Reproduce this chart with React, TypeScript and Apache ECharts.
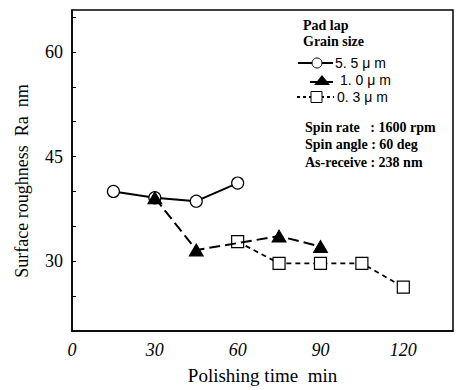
import React, { useEffect, useRef } from "react";
import * as echarts from "echarts";

const seriesNames = ["5. 5 \u03bc m", "1. 0 \u03bc m", "0. 3 \u03bc m"];
const data55: [number, number][] = [[15, 40.0], [30, 39.1], [45, 38.6], [60, 41.2]];
const data10: [number, number][] = [[30, 39.1], [45, 31.6], [75, 33.6], [90, 32.1]];
const data03: [number, number][] = [[60, 32.8], [75, 29.7], [90, 29.7], [105, 29.7], [120, 26.3]];
const yLabels = [30, 45, 60];
const notes = ["Pad lap", "Grain size"];
const conditions = ["Spin rate   : 1600 rpm", "Spin angle : 60 deg", "As-receive : 238 nm"];

export default function App() {
  const ref = useRef<HTMLDivElement>(null);
  useEffect(() => {
    if (!ref.current) return;
    const chart = echarts.init(ref.current, undefined, { renderer: "svg" });
    const serif = "Liberation Serif";
    const sans = "Liberation Sans";
    const rows = [63, 80, 97];
    const lg: any[] = [];
    lg.push({ type: "line", shape: { x1: 298, y1: rows[0], x2: 333, y2: rows[0] }, style: { stroke: "#000", lineWidth: 2 } });
    lg.push({ type: "circle", shape: { cx: 317, cy: rows[0], r: 5 }, style: { fill: "#fff", stroke: "#000", lineWidth: 1 }, z: 10 });
    lg.push({ type: "line", shape: { x1: 310, y1: rows[1] + 2, x2: 333, y2: rows[1] + 2 }, style: { stroke: "#000", lineWidth: 2 } });
    lg.push({ type: "polygon", shape: { points: [[322, rows[1] - 5], [314, rows[1] + 5], [330, rows[1] + 5]] }, style: { fill: "#000" }, z: 10 });
    lg.push({ type: "line", shape: { x1: 297, y1: rows[2], x2: 334, y2: rows[2] }, style: { stroke: "#000", lineWidth: 1.8, lineDash: [3, 3] } });
    lg.push({ type: "rect", shape: { x: 311, y: rows[2] - 5.5, width: 11, height: 11 }, style: { fill: "#fff", stroke: "#000", lineWidth: 1 }, z: 10 });
    const textX = [335, 340, 337];
    seriesNames.forEach((n, i) => {
      lg.push({
        type: "text", x: textX[i], y: rows[i],
        style: { text: n, font: `14px "${sans}"`, fill: "#000", verticalAlign: "middle", align: "left" },
        z: 10,
      });
    });

    chart.setOption({
      animation: false,
      backgroundColor: "#fff",
      grid: { left: 72, right: 3, top: 10, bottom: 57, show: true, borderColor: "#000", borderWidth: 1.5, backgroundColor: "transparent" },
      xAxis: {
        type: "value",
        min: 0,
        max: 138,
        interval: 30,
        name: "Polishing time  min",
        nameLocation: "middle",
        nameGap: 35,
        nameTextStyle: { fontFamily: serif, fontSize: 19, color: "#000" },
        axisLine: { lineStyle: { color: "#000", width: 1.5 } },
        axisTick: { show: false },
        splitLine: { show: false },
        axisLabel: {
          fontFamily: serif, fontSize: 18, fontStyle: "italic", color: "#000", margin: 10,
          showMaxLabel: false,
          formatter: (v: number) => (v % 30 === 0 ? String(v) : ""),
        },
      },
      yAxis: {
        type: "value",
        min: 20,
        max: 66,
        interval: 5,
        axisLine: { lineStyle: { color: "#000", width: 1.5 } },
        axisTick: { show: true, inside: true, length: 4, lineStyle: { color: "#000" } },
        splitLine: { show: false },
        axisLabel: {
          fontFamily: serif, fontSize: 18, color: "#000", margin: 9,
          showMaxLabel: false,
          formatter: (v: number) => (yLabels.includes(v) ? String(v) : ""),
        },
      },
      series: [
        {
          name: seriesNames[0], type: "line", data: data55, symbol: "circle", symbolSize: 12,
          lineStyle: { color: "#000", width: 2, type: "solid" },
          itemStyle: { color: "#fff", borderColor: "#000", borderWidth: 1.2 }, z: 2,
        },
        {
          name: seriesNames[1], type: "line", data: data10, symbol: "triangle", symbolSize: [14, 12],
          lineStyle: { color: "#000", width: 2, type: [11, 5] },
          itemStyle: { color: "#000", borderColor: "#000", borderWidth: 1 }, z: 4,
        },
        {
          name: seriesNames[2], type: "line", data: data03, symbol: "rect", symbolSize: 12,
          lineStyle: { color: "#000", width: 1.8, type: [5, 4] },
          itemStyle: { color: "#fff", borderColor: "#000", borderWidth: 1.2 }, z: 3,
        },
      ],
      graphic: [
        {
          type: "text", x: 22, y: 181, rotation: Math.PI / 2,
          style: { text: "Surface roughness  Ra  nm", font: `18px "${serif}"`, fill: "#000", align: "center", verticalAlign: "middle" },
        },
        ...notes.map((t, i) => ({
          type: "text", x: 303, y: 25 + i * 16,
          style: { text: t, font: `bold 14px "${serif}"`, fill: "#000", verticalAlign: "middle", align: "left" },
        })),
        ...conditions.map((t, i) => ({
          type: "text", x: 305, y: 127 + i * 17.5,
          style: { text: t, font: `bold 14px "${serif}"`, fill: "#000", verticalAlign: "middle", align: "left" },
        })),
        ...lg,
      ],
    });
    return () => chart.dispose();
  }, []);
  return <div ref={ref} style={{ width: 456, height: 390, position: "absolute", left: 0, top: 0 }} />;
}
